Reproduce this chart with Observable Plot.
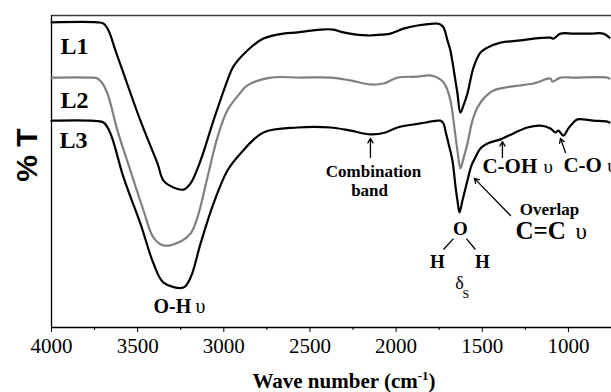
<!DOCTYPE html>
<html>
<head>
<meta charset="utf-8">
<script src="https://cdn.jsdelivr.net/npm/d3@7"></script>
<script src="https://cdn.jsdelivr.net/npm/@observablehq/plot@0.6"></script>
<style>
  html, body { margin: 0; padding: 0; background: #fff; overflow: hidden; }
  #chart svg { display: block; }
</style>
</head>
<body>
<div id="chart"></div>
<script>
// ---- Spectra (wavenumber cm-1, relative transmittance %) ----
const l1Wn = [4000,3733,3698,3669,3629,3588,3484,3385,3350,3292,3234,3193,3135,3060,2979,2944,2863,2770,2654,2572,2439,2364,2306,2166,2073,2033,1957,1876,1783,1760,1743,1725,1702,1685,1656,1644,1627,1609,1586,1551,1511,1470,1394,1278,1203,1104,1087,1046,971,872,797,762];
const l1T  = [97.8,97.8,97.4,95.2,88.8,82.4,66.3,52.6,47.1,44.9,44.2,46.2,53.5,66.3,79.2,83.7,88.8,92.6,94.2,94.6,95.5,95.5,94.6,93.6,93.9,94.2,95.8,96.8,97.4,97.4,97.1,96.2,92.0,88.8,79.2,75.0,68.9,71.2,75.0,83.3,88.1,89.7,91.3,92.0,92.6,92.9,92.6,94.2,94.2,94.2,94.2,92.9];

const l2Wn = [4000,3774,3733,3704,3675,3617,3542,3466,3408,3350,3251,3193,3153,3095,3037,2979,2903,2863,2729,2555,2381,2265,2149,2073,1992,1876,1801,1743,1714,1685,1656,1644,1627,1609,1586,1557,1528,1482,1435,1336,1203,1104,1093,1046,971,774,762];
const l2T  = [80.1,80.1,79.8,78.2,75.0,63.1,50.3,37.5,28.8,26.3,27.6,30.1,35.3,48.1,60.9,69.6,75.3,77.6,80.1,80.1,80.1,79.2,77.9,78.2,80.1,80.4,80.8,79.5,77.6,72.8,61.5,56.7,51.0,54.2,59.0,66.3,70.5,74.0,76.0,77.2,78.2,79.8,78.8,80.1,80.1,80.1,79.8];

const l3Wn = [4000,3774,3698,3658,3582,3484,3408,3350,3234,3193,3135,3060,2979,2903,2770,2572,2381,2265,2149,2062,1992,1859,1760,1743,1725,1714,1696,1673,1656,1644,1632,1615,1586,1563,1540,1511,1470,1394,1319,1238,1162,1104,1075,1058,1029,1000,971,948,855,774,762];
const l3T  = [66.3,66.3,65.7,62.2,48.1,33.3,20.5,14.4,12.8,16.0,26.9,39.7,50.3,55.8,62.5,64.1,64.1,63.1,61.9,62.5,64.1,65.4,66.3,66.3,65.4,63.1,59.0,53.5,45.5,40.7,36.9,40.7,47.1,51.9,54.5,57.4,59.0,60.3,62.2,64.1,64.7,63.8,62.5,63.1,61.5,63.8,65.7,66.7,66.3,66.0,65.7];

const seriesNames = ["L1", "L2", "L3"];
const seriesColors = ["#000000", "#808080", "#000000"];

// ---- Axis ticks ----
const majorTicks = [4000, 3500, 3000, 2500, 2000, 1500, 1000];
const minorTicks = [3750, 3250, 2750, 2250, 1750, 1250];

// ---- Annotations (data coordinates: wavenumber, %T at text baseline) ----
const boldStartLabels = [
  {t: "L1", wn: 3948, T: 87.8, size: 24},
  {t: "L2", wn: 3948, T: 70.5, size: 24},
  {t: "L3", wn: 3954, T: 57.4, size: 24},
  {t: "O-H", wn: 3408, T: 4.5, size: 20},
  {t: "C-OH", wn: 1499, T: 49.4, size: 21},
  {t: "C-O", wn: 1029, T: 49.7, size: 21},
  {t: "C=C", wn: 1307, T: 28.5, size: 25}
];
const boldMiddleLabels = [
  {t: "Combination", wn: 2131, T: 48.1, size: 17},
  {t: "band", wn: 2154, T: 42.0, size: 17},
  {t: "Overlap", wn: 1110, T: 35.9, size: 17},
  {t: "O", wn: 1627, T: 29.5, size: 19},
  {t: "H", wn: 1760, T: 19.2, size: 19},
  {t: "H", wn: 1499, T: 19.2, size: 19}
];
const regularStartLabels = [
  {t: "υ", wn: 3164, T: 4.5, size: 20},
  {t: "υ", wn: 1145, T: 49.4, size: 19},
  {t: "υ", wn: 774, T: 49.7, size: 19},
  {t: "υ", wn: 959, T: 28.5, size: 23},
  {t: "S", wn: 1615, T: 9.6, size: 12}
];
const regularMiddleLabels = [
  {t: "δ", wn: 1632, T: 12.5, size: 18}
];
const arrows = [
  {x1: 2149, y1: 54.5, x2: 2149, y2: 60.6},
  {x1: 1383, y1: 54.5, x2: 1383, y2: 59.6},
  {x1: 1017, y1: 56.1, x2: 1046, y2: 60.6},
  {x1: 1336, y1: 35.9, x2: 1546, y2: 47.8}
];
const bonds = [
  {x1: 1667, y1: 28.5, x2: 1725, y2: 25.0},
  {x1: 1592, y1: 28.5, x2: 1540, y2: 25.0}
];

// ---- Build tidy table ----
const spectra = [];
[[l1Wn, l1T], [l2Wn, l2T], [l3Wn, l3T]].forEach(([w, t], i) => {
  w.forEach((x, j) => spectra.push({series: seriesNames[i], wn: x, T: t[j]}));
});

const serif = "Liberation Serif";
const textOpts = (anchor, weight) => ({
  x: "wn", y: "T", text: "t", fontSize: "size", textAnchor: anchor,
  lineAnchor: "bottom", fontWeight: weight, fontFamily: serif, fill: "#000"
});

const plot = Plot.plot({
  width: 611,
  height: 392,
  marginLeft: 51,
  marginRight: 0,
  marginTop: 15,
  marginBottom: 65,
  style: {fontFamily: serif, background: "#ffffff"},
  x: {domain: [4000, 750]},
  y: {domain: [0, 100], axis: null},
  color: {domain: seriesNames, range: seriesColors},
  marks: [
    Plot.ruleY([100], {stroke: "#3a3a3a", strokeWidth: 1.5}),
    Plot.ruleX([4000], {stroke: "#000", strokeWidth: 1.3}),
    Plot.ruleY([0], {stroke: "#000", strokeWidth: 1.3}),
    Plot.axisX(majorTicks, {tickSize: 5, tickPadding: 6, tickFormat: d => String(d), fontSize: 21, fontFamily: serif, label: null, stroke: "#000"}),
    Plot.axisX(minorTicks, {tickSize: 3, tickFormat: () => "", label: null, stroke: "#000"}),
    Plot.line(spectra, {x: "wn", y: "T", z: "series", stroke: "series", strokeWidth: 2.2, curve: "catmull-rom"}),
    Plot.arrow(arrows, {x1: "x1", y1: "y1", x2: "x2", y2: "y2", stroke: "#000", strokeWidth: 1.3, headLength: 6, inset: 0}),
    Plot.link(bonds, {x1: "x1", y1: "y1", x2: "x2", y2: "y2", stroke: "#000", strokeWidth: 1.3}),
    Plot.text(boldStartLabels, textOpts("start", "bold")),
    Plot.text(boldMiddleLabels, textOpts("middle", "bold")),
    Plot.text(regularStartLabels, textOpts("start", "normal")),
    Plot.text(regularMiddleLabels, textOpts("middle", "normal"))
  ]
});

const svg = d3.select(plot);
// y-axis title
svg.append("text")
  .attr("transform", "translate(37,155) rotate(-90)")
  .attr("text-anchor", "middle")
  .style("font-family", "Liberation Sans")
  .style("font-weight", "bold")
  .style("font-size", "30px")
  .attr("fill", "#000")
  .text("% T");
// x-axis title with superscript
const xt = svg.append("text")
  .attr("x", 344)
  .attr("y", 388)
  .attr("text-anchor", "middle")
  .style("font-family", serif)
  .style("font-weight", "bold")
  .style("font-size", "21px")
  .attr("fill", "#000");
xt.append("tspan").text("Wave number (cm");
xt.append("tspan").attr("dy", -8).style("font-size", "13px").text("-1");
xt.append("tspan").attr("dy", 8).text(")");

document.getElementById("chart").appendChild(plot);
</script>
</body>
</html>
